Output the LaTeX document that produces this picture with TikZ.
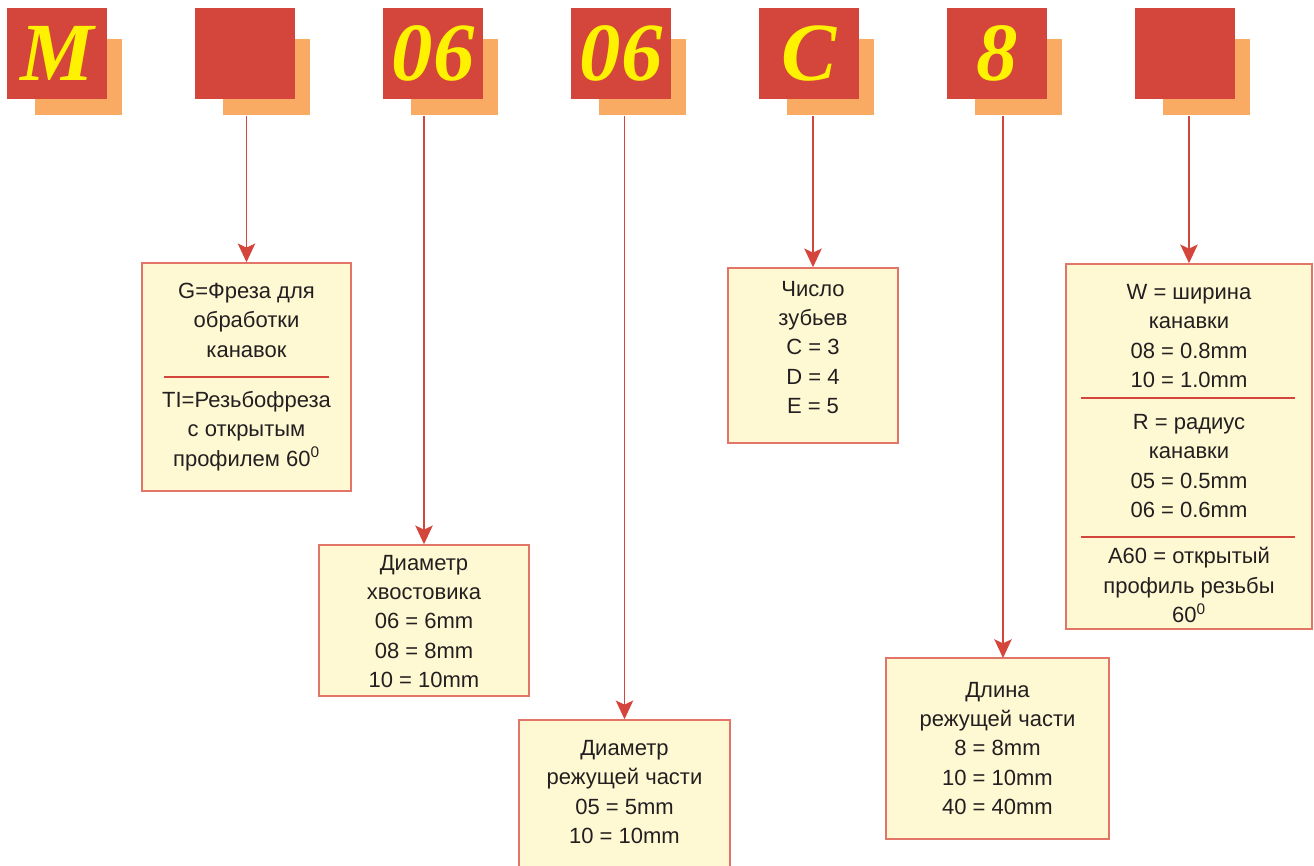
\documentclass[tikz,border=0pt]{standalone}
\usepackage{fontspec}
\setmainfont{Liberation Sans}
\newfontfamily\bigserif{Liberation Serif}
\usetikzlibrary{arrows.meta, fit}

\definecolor{sqred}{HTML}{D4453B}
\definecolor{sqorange}{HTML}{F9AB63}
\definecolor{letteryel}{HTML}{FFF200}
\definecolor{boxfill}{HTML}{FFF9D3}
\definecolor{boxline}{HTML}{E37468}
\definecolor{txtgray}{HTML}{231F20}

\tikzset{
  shadowsq/.style={fill=sqorange, minimum width=65.25pt, minimum height=57pt, inner sep=0, anchor=north west},
  redsq/.style={fill=sqred, minimum width=75pt, minimum height=68.25pt, inner sep=0, anchor=north west, text=letteryel, font=\bigserif\bfseries\itshape\fontsize{62}{62}\selectfont},
  infobox/.style={draw=boxline, line width=1.1pt, fill=boxfill, inner sep=0},
  boxtext/.style={inner sep=0, align=center, text=txtgray, font=\fontsize{16.5}{22.1}\selectfont},
  pointer/.style={draw=sqred, line width=1.4pt, -{Stealth[length=14pt, width=13pt, inset=3pt]}},
  sepline/.style={draw=sqred, line width=1.5pt}
}

\begin{document}
\begin{tikzpicture}[x=0.75pt, y=-0.75pt]
    \useasboundingbox (0,0) rectangle (1314,866);
    % code letters: shadow squares, then red squares
    \node[shadowsq] (sh0) at (35,39) {};
    \node[shadowsq] (sh1) at (223,39) {};
    \node[shadowsq] (sh2) at (411,39) {};
    \node[shadowsq] (sh3) at (599,39) {};
    \node[shadowsq] (sh4) at (787,39) {};
    \node[shadowsq] (sh5) at (975,39) {};
    \node[shadowsq] (sh6) at (1163,39) {};

    \node[redsq] (sq0) at (7,8) {M};
    \node[redsq] (sq1) at (195,8) {};
    \node[redsq] (sq2) at (383,8) {06};
    \node[redsq] (sq3) at (571,8) {06};
    \node[redsq] (sq4) at (759,8) {C};
    \node[redsq] (sq5) at (947,8) {8};
    \node[redsq] (sq6) at (1135,8) {};

    % explanation boxes
    \node[infobox, fit={(142,263) (351,491)}] (gbox) {};
    \node[infobox, fit={(319,545) (529,696)}] (dbox) {};
    \node[infobox, fit={(519,720) (730,868)}] (cbox) {};
    \node[infobox, fit={(728,268) (898,443)}] (zbox) {};
    \node[infobox, fit={(886,658) (1109,839)}] (lbox) {};
    \node[infobox, fit={(1066,264) (1312,629)}] (wbox) {};

    % box texts
    \node[boxtext] (gtxt) at (246.5,377) {G=Фреза для\\обработки\\канавок\\[15.4pt]TI=Резьбофреза\\с открытым\\профилем 60\textsuperscript{0}};
    \node[boxtext] (dtxt) at (424,621.5) {Диаметр\\хвостовика\\06 = 6mm\\08 = 8mm\\10 = 10mm};
    \node[boxtext] (ctxt) at (624.5,792) {Диаметр\\режущей части\\05 = 5mm\\10 = 10mm};
    \node[boxtext] (ztxt) at (813,347.5) {Число\\зубьев\\C = 3\\D = 4\\E = 5};
    \node[boxtext] (ltxt) at (997.5,748.5) {Длина\\режущей части\\8 = 8mm\\10 = 10mm\\40 = 40mm};
    \node[boxtext] (wtxt) at (1189,453.5) {W = ширина\\канавки\\08 = 0.8mm\\10 = 1.0mm\\[9.4pt]R = радиус\\канавки\\05 = 0.5mm\\06 = 0.6mm\\[12.4pt]A60 = открытый\\профиль резьбы\\60\textsuperscript{0}};

    % separators
    \draw[sepline] (164,377) -- (329,377);
    \draw[sepline] (1081,398) -- (1295,398);
    \draw[sepline] (1081,537) -- (1295,537);

    % arrows
    \coordinate (lpin) at (1003,658);
    \draw[pointer] (gbox.north |- sh1.south) -- (gbox.north);
    \draw[pointer] (dbox.north |- sh2.south) -- (dbox.north);
    \draw[pointer] (cbox.north |- sh3.south) -- (cbox.north);
    \draw[pointer] (zbox.north |- sh4.south) -- (zbox.north);
    \draw[pointer] (lpin |- sh5.south) -- (lpin);
    \draw[pointer] (wbox.north |- sh6.south) -- (wbox.north);
\end{tikzpicture}
\end{document}
